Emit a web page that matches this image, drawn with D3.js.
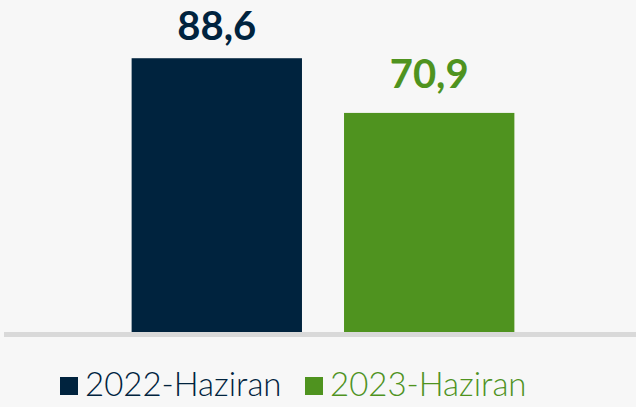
<!DOCTYPE html>
<html lang="tr">
<head>
    <meta charset="UTF-8">
    <title>Haziran</title>
    <script src="https://d3js.org/d3.v7.min.js"></script>
    <style>
        html, body { margin: 0; padding: 0; background: #f7f7f7; }
        svg { display: block; }
    </style>
</head>
<body>
    <svg width="636" height="407"></svg>
    <script>
        // data
        const categories = ["2022-Haziran", "2023-Haziran"];
        const values = [88.6, 70.9];
        const labels = ["88,6", "70,9"];
        const colors = ["#00233e", "#4f931f"];

        const width = 636;
        const height = 407;
        const baseY = 332;

        const svg = d3.select("svg")
            .attr("width", width)
            .attr("height", height);

        svg.append("rect")
            .attr("width", width)
            .attr("height", height)
            .attr("fill", "#f7f7f7");

        const xScale = d3.scaleBand()
            .domain(categories)
            .range([121, 525])
            .paddingInner(0.198)
            .paddingOuter(0.05);

        const yScale = d3.scaleLinear()
            .domain([0, 100])
            .range([baseY, 23]);

        // bars
        svg.selectAll(".bar")
            .data(values)
            .join("rect")
            .attr("class", "bar")
            .attr("x", (d, i) => xScale(categories[i]))
            .attr("y", d => yScale(d))
            .attr("width", xScale.bandwidth())
            .attr("height", d => baseY - yScale(d))
            .attr("fill", (d, i) => colors[i]);

        // value labels (kept inside the top edge, like the original)
        svg.selectAll(".val")
            .data(values)
            .join("text")
            .attr("class", "val")
            .attr("x", (d, i) => xScale(categories[i]) + xScale.bandwidth() / 2)
            .attr("y", d => Math.max(yScale(d) - 25, 40))
            .attr("text-anchor", "middle")
            .attr("font-family", "Lato, sans-serif")
            .attr("font-weight", "bold")
            .attr("font-size", 40)
            .attr("fill", (d, i) => colors[i])
            .text((d, i) => labels[i]);

        // baseline
        svg.append("line")
            .attr("x1", 4)
            .attr("x2", width)
            .attr("y1", baseY + 2.5)
            .attr("y2", baseY + 2.5)
            .attr("stroke", "#d9d9d9")
            .attr("stroke-width", 5);

        // legend
        const legendX = [60, 305];
        const legend = svg.selectAll(".legend")
            .data(categories)
            .join("g")
            .attr("class", "legend")
            .attr("transform", (d, i) => `translate(${legendX[i]},377)`);

        legend.append("rect")
            .attr("width", 18)
            .attr("height", 18)
            .attr("fill", (d, i) => colors[i]);

        legend.append("text")
            .attr("x", 25)
            .attr("y", 19)
            .attr("font-family", "Lato, sans-serif")
            .attr("font-weight", 300)
            .attr("font-size", 33)
            .attr("fill", (d, i) => colors[i])
            .text(d => d);
    </script>
</body>
</html>
